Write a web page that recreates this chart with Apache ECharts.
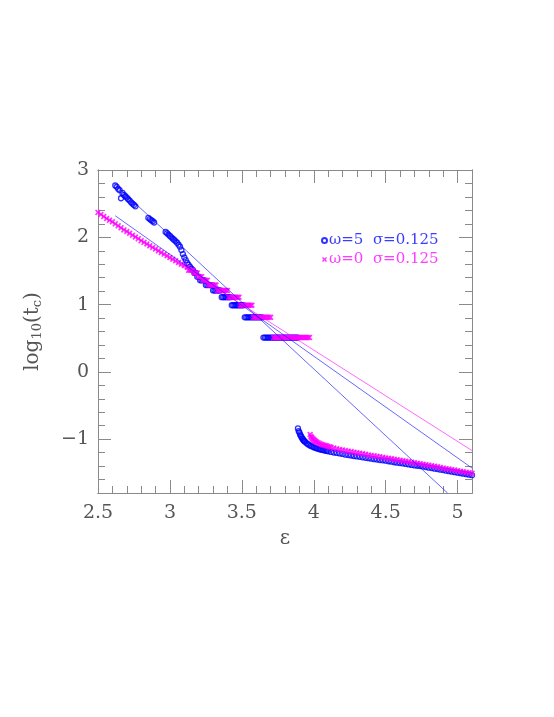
<!DOCTYPE html>
<html>
<head>
<meta charset="utf-8">
<script src="https://cdn.jsdelivr.net/npm/echarts@6/dist/echarts.min.js"></script>
<style>
  html, body { margin: 0; padding: 0; background: #fff; }
  #chart { width: 554px; height: 717px; }
</style>
</head>
<body>
<div id="chart"></div>
<script>
// tick labels
const xTicks = [2.5, 3, 3.5, 4, 4.5, 5]
const yTicks = [-1, 0, 1, 2, 3]

// omega = 5 (blue circles), upper branch incl. plateaus
const w5Upper = [
  [2.62, 2.77], [2.63, 2.75], [2.64, 2.72], [2.65, 2.70], [2.66, 2.58], [2.67, 2.66], [2.68, 2.63],
  [2.69, 2.61], [2.70, 2.59], [2.71, 2.565], [2.72, 2.545], [2.73, 2.52], [2.74, 2.50], [2.75, 2.48], [2.76, 2.46],
  [2.85, 2.29], [2.86, 2.27], [2.87, 2.255], [2.88, 2.24], [2.89, 2.22],
  [2.97, 2.08], [2.98, 2.06], [2.99, 2.04], [3.00, 2.02], [3.01, 2.00], [3.02, 1.98], [3.03, 1.96],
  [3.04, 1.94], [3.05, 1.92], [3.06, 1.89], [3.07, 1.86], [3.08, 1.81], [3.09, 1.75], [3.10, 1.70],
  [3.11, 1.66], [3.12, 1.62], [3.13, 1.59], [3.14, 1.56], [3.15, 1.535],
  [3.16, 1.51],
  [3.17, 1.47], [3.18, 1.47],
  [3.19, 1.415], [3.20, 1.415],
  [3.21, 1.36], [3.22, 1.36], [3.23, 1.36], [3.24, 1.36],
  [3.25, 1.29], [3.26, 1.29], [3.27, 1.29], [3.28, 1.29], [3.29, 1.29],
  [3.30, 1.21], [3.31, 1.21], [3.32, 1.21], [3.33, 1.21], [3.34, 1.21], [3.35, 1.21],
  [3.36, 1.11], [3.37, 1.11], [3.38, 1.11], [3.39, 1.11], [3.40, 1.11], [3.41, 1.11], [3.42, 1.11],
  [3.43, 0.99], [3.44, 0.99], [3.45, 0.99], [3.46, 0.99], [3.47, 0.99], [3.48, 0.99], [3.49, 0.99],
  [3.50, 0.99], [3.51, 0.99],
  [3.52, 0.81], [3.53, 0.81], [3.54, 0.81], [3.55, 0.81], [3.56, 0.81], [3.57, 0.81], [3.58, 0.81],
  [3.59, 0.81], [3.60, 0.81], [3.61, 0.81], [3.62, 0.81], [3.63, 0.81], [3.64, 0.81],
  [3.65, 0.51], [3.66, 0.51], [3.67, 0.51], [3.68, 0.51], [3.69, 0.51], [3.70, 0.51], [3.71, 0.51],
  [3.72, 0.51], [3.73, 0.51], [3.74, 0.51], [3.75, 0.51], [3.76, 0.51], [3.77, 0.51], [3.78, 0.51],
  [3.79, 0.51], [3.80, 0.51], [3.81, 0.51], [3.82, 0.51], [3.83, 0.51], [3.84, 0.51], [3.85, 0.51],
  [3.86, 0.51], [3.87, 0.51], [3.88, 0.51], [3.89, 0.51]
]

// omega = 5, lower branch
const w5Lower = [
  [3.89, -0.84], [3.895, -0.88], [3.90, -0.90], [3.905, -0.93], [3.91, -0.95], [3.915, -0.97],
  [3.92, -0.99], [3.925, -1.005], [3.93, -1.02], [3.935, -1.03], [3.94, -1.04], [3.95, -1.06],
  [3.96, -1.075], [3.97, -1.09], [3.98, -1.10], [3.99, -1.11], [4.00, -1.12], [4.01, -1.128],
  [4.02, -1.135], [4.03, -1.143], [4.04, -1.15], [4.05, -1.155], [4.06, -1.16], [4.07, -1.165],
  [4.08, -1.17], [4.09, -1.175], [4.10, -1.18], [4.12, -1.19], [4.14, -1.198], [4.16, -1.205],
  [4.18, -1.212], [4.20, -1.22], [4.22, -1.23], [4.24, -1.237], [4.26, -1.243], [4.28, -1.25],
  [4.30, -1.257], [4.32, -1.263], [4.34, -1.27], [4.36, -1.277], [4.38, -1.283], [4.40, -1.29],
  [4.42, -1.297], [4.44, -1.303], [4.46, -1.31], [4.48, -1.315], [4.50, -1.32], [4.52, -1.328],
  [4.54, -1.335], [4.56, -1.343], [4.58, -1.35], [4.60, -1.355], [4.62, -1.36], [4.64, -1.368],
  [4.66, -1.375], [4.68, -1.383], [4.70, -1.39], [4.72, -1.395], [4.74, -1.40], [4.76, -1.408],
  [4.78, -1.415], [4.80, -1.423], [4.82, -1.43], [4.84, -1.438], [4.86, -1.445], [4.88, -1.453],
  [4.90, -1.46], [4.92, -1.468], [4.94, -1.475], [4.96, -1.483], [4.98, -1.49], [5.00, -1.498],
  [5.02, -1.505], [5.04, -1.513], [5.06, -1.52], [5.08, -1.528], [5.10, -1.535]
]

// omega = 0 (magenta crosses), upper branch incl. plateaus
const w0Upper = [
  [2.50, 2.37], [2.52, 2.34], [2.54, 2.31], [2.56, 2.28], [2.58, 2.255], [2.60, 2.23], [2.62, 2.20],
  [2.64, 2.17], [2.66, 2.14], [2.68, 2.11], [2.70, 2.085], [2.72, 2.06], [2.74, 2.03], [2.76, 2.005],
  [2.78, 1.98], [2.80, 1.95], [2.82, 1.925], [2.84, 1.90], [2.86, 1.875], [2.88, 1.85], [2.90, 1.825],
  [2.92, 1.80], [2.94, 1.775], [2.96, 1.75], [2.98, 1.725], [3.00, 1.70], [3.02, 1.675], [3.04, 1.65],
  [3.06, 1.625], [3.08, 1.60], [3.10, 1.58], [3.12, 1.555],
  [3.13, 1.51], [3.14, 1.51], [3.15, 1.51], [3.16, 1.51],
  [3.17, 1.47], [3.18, 1.47], [3.19, 1.47],
  [3.20, 1.415], [3.21, 1.415], [3.22, 1.415],
  [3.23, 1.36], [3.24, 1.36], [3.25, 1.36], [3.26, 1.36],
  [3.27, 1.29], [3.28, 1.29], [3.29, 1.29], [3.30, 1.29], [3.31, 1.29], [3.32, 1.29],
  [3.33, 1.21], [3.34, 1.21], [3.35, 1.21], [3.36, 1.21], [3.37, 1.21], [3.38, 1.21], [3.39, 1.21], [3.40, 1.21],
  [3.41, 1.11], [3.42, 1.11], [3.43, 1.11], [3.44, 1.11], [3.45, 1.11], [3.46, 1.11], [3.47, 1.11], [3.48, 1.11],
  [3.49, 0.99], [3.50, 0.99], [3.51, 0.99], [3.52, 0.99], [3.53, 0.99], [3.54, 0.99], [3.55, 0.99],
  [3.56, 0.99], [3.57, 0.99],
  [3.58, 0.81], [3.59, 0.81], [3.60, 0.81], [3.61, 0.81], [3.62, 0.81], [3.63, 0.81], [3.64, 0.81],
  [3.65, 0.81], [3.66, 0.81], [3.67, 0.81], [3.68, 0.81], [3.69, 0.81], [3.70, 0.81],
  [3.72, 0.51], [3.73, 0.51], [3.74, 0.51], [3.75, 0.51], [3.76, 0.51], [3.77, 0.51], [3.78, 0.51],
  [3.79, 0.51], [3.80, 0.51], [3.81, 0.51], [3.82, 0.51], [3.83, 0.51], [3.84, 0.51], [3.85, 0.51],
  [3.86, 0.51], [3.87, 0.51], [3.88, 0.51], [3.89, 0.51], [3.90, 0.51], [3.91, 0.51], [3.92, 0.51],
  [3.93, 0.51], [3.94, 0.51], [3.95, 0.51], [3.96, 0.51], [3.97, 0.51]
]

// omega = 0, lower branch
const w0Lower = [
  [3.975, -0.93], [3.98, -0.96], [3.985, -0.975], [3.99, -0.99], [3.995, -1.00], [4.00, -1.01],
  [4.005, -1.02], [4.01, -1.03], [4.015, -1.038], [4.02, -1.045], [4.03, -1.055], [4.04, -1.065],
  [4.05, -1.075], [4.06, -1.083], [4.07, -1.09], [4.08, -1.095], [4.09, -1.10], [4.10, -1.108],
  [4.11, -1.115], [4.12, -1.12], [4.14, -1.13], [4.16, -1.143], [4.18, -1.153], [4.20, -1.16],
  [4.22, -1.17], [4.24, -1.178], [4.26, -1.185], [4.28, -1.195], [4.30, -1.203], [4.32, -1.21],
  [4.34, -1.217], [4.36, -1.225], [4.38, -1.235], [4.40, -1.242], [4.42, -1.248], [4.44, -1.255],
  [4.46, -1.262], [4.48, -1.27], [4.50, -1.28], [4.52, -1.285], [4.54, -1.29], [4.56, -1.298],
  [4.58, -1.305], [4.60, -1.313], [4.62, -1.32], [4.64, -1.328], [4.66, -1.335], [4.68, -1.343],
  [4.70, -1.35], [4.72, -1.358], [4.74, -1.365], [4.76, -1.373], [4.78, -1.38], [4.80, -1.388],
  [4.82, -1.395], [4.84, -1.403], [4.86, -1.41], [4.88, -1.42], [4.90, -1.43], [4.92, -1.438],
  [4.94, -1.445], [4.96, -1.453], [4.98, -1.46], [5.00, -1.468], [5.02, -1.475], [5.04, -1.483],
  [5.06, -1.49], [5.08, -1.498], [5.10, -1.505]
]

// straight fit lines (end points)
const fitBlueSteep = [[2.62, 2.78], [4.93, -1.80]]
const fitBlueFlat = [[2.62, 2.32], [5.10, -1.43]]
const fitMagenta = [[2.50, 2.36], [5.10, -1.17]]

const BLUE = '#0000ff'
const MAGENTA = '#ff00ff'
const GRAY = '#8a8a8a'
const LABEL = '#555'
const FONT = 'DejaVu Serif'
const CROSS = 'path://M0,2L2,0L5,3L8,0L10,2L7,5L10,8L8,10L5,7L2,10L0,8L3,5Z'

const chart = echarts.init(document.getElementById('chart'))

function xAxisOf(pos, major) {
  return {
    type: 'value', position: pos, min: 2.5, max: 5.1,
    interval: major ? 0.5 : 0.1,
    axisLine: { show: true, onZero: false, lineStyle: { color: GRAY, width: 1 } },
    axisTick: { show: true, inside: true, length: major ? 13 : 7, lineStyle: { color: GRAY } },
    axisLabel: {
      show: major && pos === 'bottom', margin: 11, fontSize: 19, fontFamily: FONT, color: LABEL,
      showMaxLabel: false
    },
    splitLine: { show: false }
  }
}

function yAxisOf(pos, major) {
  const ax = {
    type: 'value', position: pos, min: -1.8, max: 3,
    axisLine: { show: true, onZero: false, lineStyle: { color: GRAY, width: 1 } },
    axisTick: { show: true, inside: true, length: major ? 13 : 7, lineStyle: { color: GRAY } },
    axisLabel: { show: false },
    splitLine: { show: false }
  }
  if (major) {
    ax.axisTick.customValues = yTicks
    ax.axisLabel = {
      show: pos === 'left', margin: 9, fontSize: 19, fontFamily: FONT, color: LABEL,
      customValues: yTicks,
      formatter: v => String(v).replace('-', '\u2212')
    }
  } else {
    ax.interval = 0.2
  }
  return ax
}

const xAxes = [xAxisOf('bottom', true), xAxisOf('bottom', false), xAxisOf('top', true), xAxisOf('top', false)]
xAxes[0].name = '\u03b5'
xAxes[0].nameLocation = 'middle'
xAxes[0].nameGap = 36
xAxes[0].nameTextStyle = { fontSize: 20, fontFamily: FONT, color: LABEL }

const yAxes = [yAxisOf('left', true), yAxisOf('left', false), yAxisOf('right', true), yAxisOf('right', false)]
yAxes[0].name = 'log{sub|10}(t{sub|c})'
yAxes[0].nameLocation = 'middle'
yAxes[0].nameGap = 54
yAxes[0].nameTextStyle = {
  fontSize: 20, fontFamily: FONT, color: LABEL,
  rich: { sub: { fontSize: 13, fontFamily: FONT, color: LABEL, padding: [9, 0, 0, 0] } }
}

const W5 = '\u03c9=5  \u03c3=0.125'
const W0 = '\u03c9=0  \u03c3=0.125'

chart.setOption({
  animation: false,
  backgroundColor: '#fff',
  grid: { left: 98, right: 82, top: 170, bottom: 224, containLabel: false },
  legend: {
    left: 316, top: 228, orient: 'vertical', itemGap: 4, itemWidth: 5, itemHeight: 5,
    selectedMode: false,
    data: [
      { name: W5, textStyle: { color: '#3c3cff' } },
      { name: W0, textStyle: { color: '#ff3cff' } }
    ],
    textStyle: { fontSize: 15, fontFamily: FONT, padding: [0, 0, 0, -3] }
  },
  xAxis: xAxes,
  yAxis: yAxes,
  series: [
    {
      name: W5, type: 'scatter', symbol: 'circle', symbolSize: 5,
      data: w5Upper.concat(w5Lower),
      itemStyle: { color: 'rgba(255,255,255,0)', borderColor: BLUE, borderWidth: 1.3 }
    },
    {
      name: W0, type: 'scatter', symbol: CROSS, symbolSize: 6,
      data: w0Upper.concat(w0Lower),
      itemStyle: { color: MAGENTA }
    },
    {
      name: 'fit1', type: 'line', data: fitBlueSteep, symbol: 'none',
      lineStyle: { color: BLUE, width: 0.8, opacity: 0.75 }
    },
    {
      name: 'fit2', type: 'line', data: fitBlueFlat, symbol: 'none',
      lineStyle: { color: BLUE, width: 0.8, opacity: 0.75 }
    },
    {
      name: 'fit3', type: 'line', data: fitMagenta, symbol: 'none',
      lineStyle: { color: MAGENTA, width: 0.8, opacity: 0.75 }
    }
  ]
})
</script>
</body>
</html>
